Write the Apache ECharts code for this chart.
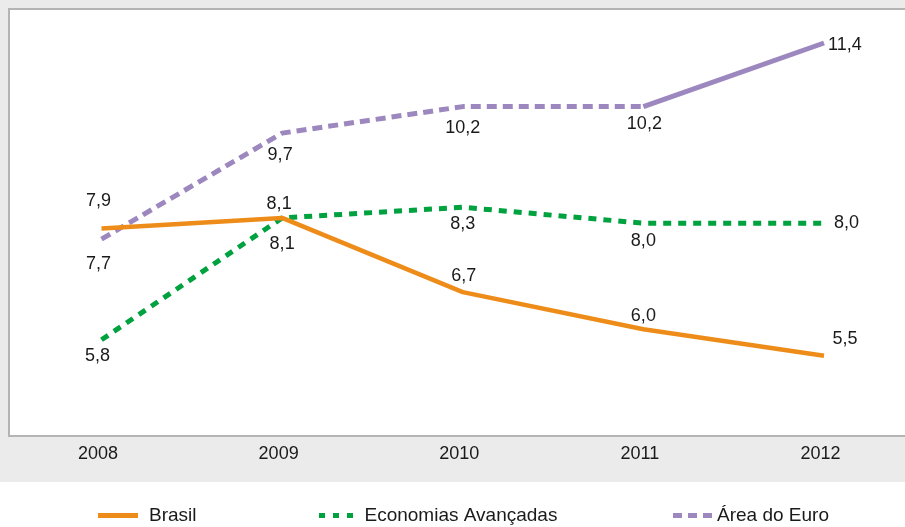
<!DOCTYPE html>
<html>
<head>
<meta charset="utf-8">
<script src="https://cdn.jsdelivr.net/npm/echarts@6/dist/echarts.min.js"></script>
<style>html,body{margin:0;padding:0;background:#fff;}#c{width:905px;height:527px;}</style>
</head>
<body>
<div id="c"></div>
<script>
var years = ['2008', '2009', '2010', '2011', '2012'];
var brasil = [7.9, 8.1, 6.7, 6.0, 5.5];
var avancadas = [5.8, 8.1, 8.3, 8.0, 8.0];
var euro = [7.7, 9.7, 10.2, 10.2, 11.4];

// label placement (style only)
var brasilLab = [
  {position: 'top', distance: 18, offset: [-3, 0]},
  {position: 'top', distance: 5, offset: [-3, 0]},
  {position: 'top', distance: 7, offset: [1, 0]},
  {position: 'top', distance: 4, offset: [0, 0]},
  {position: 'top', distance: 8, offset: [21, 0]}
];
var avLab = [
  {position: 'bottom', distance: 7, offset: [-4, 0]},
  {position: 'bottom', distance: 17, offset: [0, 0]},
  {position: 'bottom', distance: 8, offset: [0, 0]},
  {position: 'bottom', distance: 9, offset: [0, 0]},
  {position: 'right', distance: 10, offset: [0, 0]}
];
var euroLab = [
  {position: 'bottom', distance: 16, offset: [-3, 0]},
  {position: 'bottom', distance: 13, offset: [-2, 0]},
  {position: 'bottom', distance: 12, offset: [0, 0]},
  {position: 'bottom', distance: 8, offset: [1, 0]},
  {position: 'right', distance: 4, offset: [0, 2]}
];

function fmt(v) { return v.toFixed(1).replace('.', ','); }
function build(vals, labs, from, to, showFrom) {
  return vals.map(function (v, i) {
    if (i < from || i > to) return null;
    var l = labs[i];
    return {value: v, label: {show: i >= showFrom, position: l.position, distance: l.distance, offset: l.offset}};
  });
}

var labelFont = {show: true, fontFamily: 'Liberation Sans', fontSize: 18, color: '#1a1a1a', formatter: function (p) { return fmt(p.value); }};

var chart = echarts.init(document.getElementById('c'));
var legendText = {fontFamily: 'Liberation Sans', fontSize: 19, color: '#1a1a1a'};
function lineSeries(name, data, color, lineStyle, z) {
  return {name: name, type: 'line', showSymbol: true, symbol: 'circle', symbolSize: 0,
    color: color, itemStyle: {color: color}, lineStyle: lineStyle,
    label: labelFont, data: data, z: z, emphasis: {disabled: true}};
}
chart.setOption({
  animation: false,
  graphic: [
    {type: 'rect', z: -10, silent: true, shape: {x: 0, y: 0, width: 905, height: 482}, style: {fill: '#ebebeb'}},
    {type: 'rect', z: -9, silent: true, shape: {x: 9, y: 9, width: 910, height: 427}, style: {fill: '#ffffff', stroke: '#b4b4b4', lineWidth: 2}}
  ],
  grid: {left: 101.5, right: 81, top: 11.2, bottom: 91.8},
  xAxis: {
    type: 'category', data: years, boundaryGap: false,
    axisLine: {show: false}, axisTick: {show: false}, splitLine: {show: false},
    axisLabel: {margin: 10, padding: [0, 7, 0, 0], fontFamily: 'Liberation Sans', fontSize: 18, color: '#1a1a1a'}
  },
  yAxis: {type: 'value', min: 4, max: 12, show: false, splitLine: {show: false}},
  legend: [
    {data: ['Brasil'], left: 93, top: 501, itemWidth: 40, itemHeight: 5, selectedMode: false,
     icon: 'path://M0,0h40v5h-40z', textStyle: Object.assign({padding: [0, 0, 0, 6]}, legendText)},
    {data: ['Economias Avançadas'], left: 314, top: 501, itemWidth: 35, itemHeight: 5, selectedMode: false,
     icon: 'path://M0,0h6v5h-6zM14,0h6v5h-6zM28,0h6v5h-6z', textStyle: Object.assign({padding: [0, 0, 0, 6]}, legendText)},
    {data: ['Área do Euro'], left: 668, top: 501, itemWidth: 39, itemHeight: 5, selectedMode: false,
     icon: 'path://M0,0h9v5h-9zM15,0h9v5h-9zM30,0h9v5h-9z', textStyle: Object.assign({padding: [0, 0, 0, 0]}, legendText)}
  ],
  series: [
    lineSeries('Área do Euro', build(euro, euroLab, 0, 3, 0), '#9c87bf', {width: 5, type: [10, 6], color: '#9c87bf', cap: 'butt'}, 3),
    lineSeries('Área do Euro', build(euro, euroLab, 3, 4, 4), '#9c87bf', {width: 5, type: 'solid', color: '#9c87bf'}, 3),
    lineSeries('Economias Avançadas', build(avancadas, avLab, 0, 4, 0), '#00a13f', {width: 5, type: [8, 7], color: '#00a13f', cap: 'butt'}, 4),
    lineSeries('Brasil', build(brasil, brasilLab, 0, 4, 0), '#ee8c1a', {width: 4.5, color: '#ee8c1a'}, 5)
  ]
});
</script>
</body>
</html>
